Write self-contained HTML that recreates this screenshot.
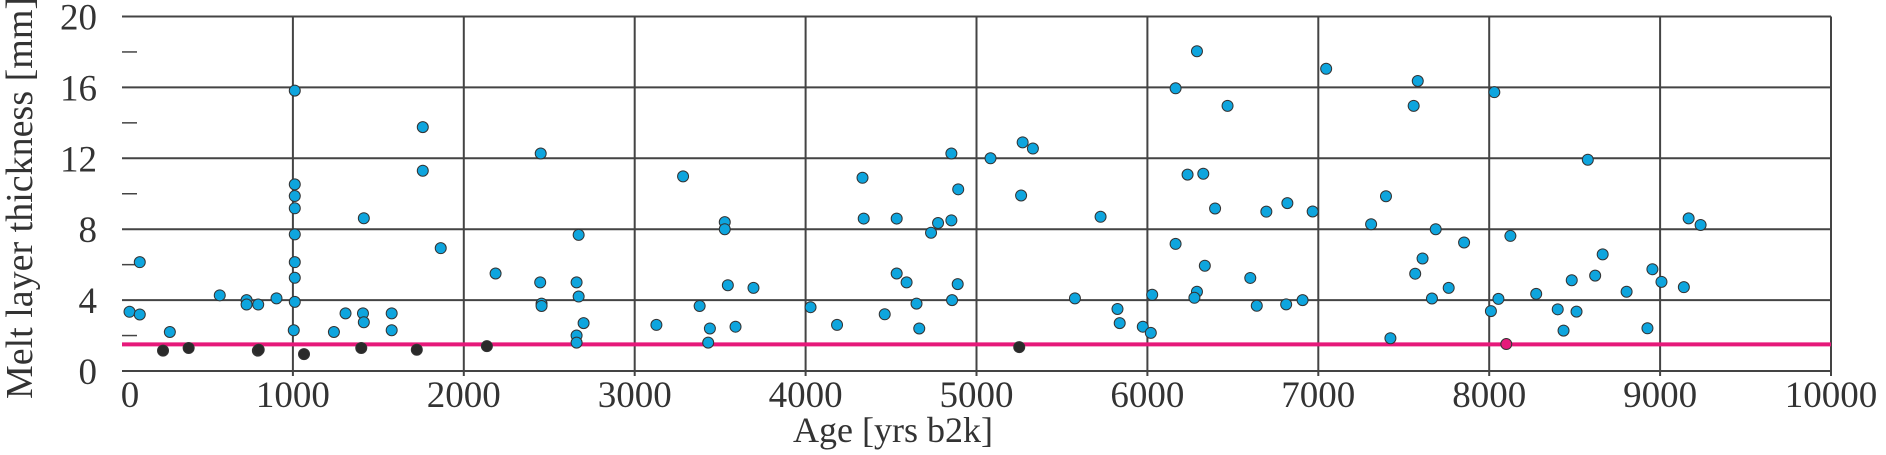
<!DOCTYPE html>
<html><head><meta charset="utf-8"><style>
html,body{margin:0;padding:0;background:#fff;}
svg{display:block;font-family:"Liberation Serif",serif;}
</style></head><body>
<svg id="chart" width="1886" height="455" viewBox="0 0 1886 455" xmlns="http://www.w3.org/2000/svg">
<g id="grid"></g>
<g id="axes"></g>
<g id="pts"></g>
<text x="0" y="0" transform="translate(32,198) rotate(-90)" text-anchor="middle" font-size="38" fill="#333">Melt layer thickness [mm]</text>
<text x="893" y="442" text-anchor="middle" font-size="36" fill="#333">Age [yrs b2k]</text>
</svg>
<script>
const xTicks=[0,1000,2000,3000,4000,5000,6000,7000,8000,9000,10000];
const yTicks=[0,4,8,12,16,20];
const yMinor=[2,6,10,14,18];
const thresholdValue=1.5;
const blueAge=[44,104,104,280,572,729,729,797,904,1011,1011,1011,1011,1011,1011,1011,1011,1005,1240,1308,1410,1415,1415,1578,1578,1760,1760,1865,2186,2450,2447,2455,2455,2672,2660,2672,2701,2660,2660,3127,3283,3380,3440,3430,3527,3527,3545,3590,3695,4029,4184,4333,4340,4463,4533,4533,4591,4649,4665,4734,4775,4853,4853,4893,4890,4857,5082,5270,5330,5261,5576,5726,5825,5838,5973,6020,6028,6165,6290,6469,6235,6327,6396,6696,6819,6165,6336,6602,6290,6275,6640,6812,6908,7046,7582,7558,8030,8577,7396,6967,7309,7687,7853,8124,9167,9237,7610,7567,7763,7665,7422,8010,8054,8275,8401,8435,8511,8483,8620,8664,8804,8926,8955,9008,9139];
const blueThk=[3.34,3.19,6.14,2.2,4.27,4.0,3.75,3.75,4.1,15.82,10.53,9.87,9.18,7.71,6.14,5.26,3.9,2.3,2.2,3.25,3.25,2.75,8.62,3.25,2.3,13.76,11.3,6.93,5.5,12.27,5.0,3.8,3.67,7.68,5.0,4.2,2.7,2.0,1.6,2.6,10.98,3.67,2.4,1.6,8.4,8.0,4.84,2.5,4.69,3.6,2.6,10.9,8.6,3.2,8.6,5.5,5.0,3.8,2.4,7.8,8.35,8.5,12.27,10.25,4.9,4.0,12.0,12.9,12.55,9.9,4.1,8.7,3.5,2.7,2.5,2.15,4.3,15.95,18.04,14.96,11.08,11.13,9.17,8.99,9.47,7.17,5.94,5.25,4.47,4.13,3.68,3.76,4.0,17.05,16.36,14.96,15.73,11.92,9.86,9.0,8.28,8.0,7.25,7.62,8.61,8.24,6.35,5.49,4.69,4.09,1.85,3.38,4.07,4.35,3.48,2.28,3.35,5.12,5.38,6.58,4.47,2.41,5.74,5.03,4.73];
const blackAge=[240,390,795,800,1065,1400,1725,2135,5250];
const blackThk=[1.15,1.3,1.15,1.2,0.95,1.3,1.2,1.4,1.35];
const pinkAge=[8100];
const pinkThk=[1.52];

const X0=122,X1=1831,Y0=371,Y1=16.5;
const sx=v=>X0+(v-0)/(10000-0)*(X1-X0);
const sy=v=>Y0-(v-0)/(20-0)*(Y0-Y1);
const NS="http://www.w3.org/2000/svg";
function mk(tag,parent,attrs){const e=document.createElementNS(NS,tag);for(const k in attrs)e.setAttribute(k,attrs[k]);parent.appendChild(e);return e;}
const grid=document.getElementById('grid'),axes=document.getElementById('axes'),pts=document.getElementById('pts');
yTicks.forEach(t=>{
  if(t>0){const l=mk('line',grid,{x1:X0,x2:X1,y1:sy(t),y2:sy(t),stroke:'#444','stroke-width':2});
  
  }
  const tx=mk('text',axes,{x:97,y:sy(t)+13,'text-anchor':'end','font-size':37,fill:'#333'});
  tx.textContent=t;
  
  
});
yMinor.forEach(t=>{
  const l=mk('line',axes,{x1:X0,x2:X0+15,y1:sy(t),y2:sy(t),stroke:'#444','stroke-width':1.5});
  
  
});
xTicks.forEach(t=>{
  if(t>0){const l=mk('line',grid,{x1:sx(t),x2:sx(t),y1:Y1,y2:Y0+5,stroke:'#444','stroke-width':2});
  
  }
  const tx=mk('text',axes,{x:sx(t)+(t===0?8:0),y:407,'text-anchor':'middle','font-size':37,fill:'#333'});
  tx.textContent=t;
  
  
});
const xa=mk('line',axes,{x1:X0,x2:X1,y1:Y0,y2:Y0,stroke:'#444','stroke-width':2});


const th=mk('line',pts,{x1:X0,x2:X1,y1:sy(thresholdValue),y2:sy(thresholdValue),stroke:'#e6197a','stroke-width':4});


function dots(xs,ys,fill,name){xs.forEach((a,i)=>{
  const c=mk('circle',pts,{cx:sx(a),cy:sy(ys[i]),r:5.5,fill:fill,stroke:'#333','stroke-width':1});
  
  
});}
dots(blueAge,blueThk,'#0ea5de','melt-layer-point');
dots(blackAge,blackThk,'#2a2a2a','below-threshold-point');
dots(pinkAge,pinkThk,'#e6197a','threshold-point');
</script>
</body></html>
